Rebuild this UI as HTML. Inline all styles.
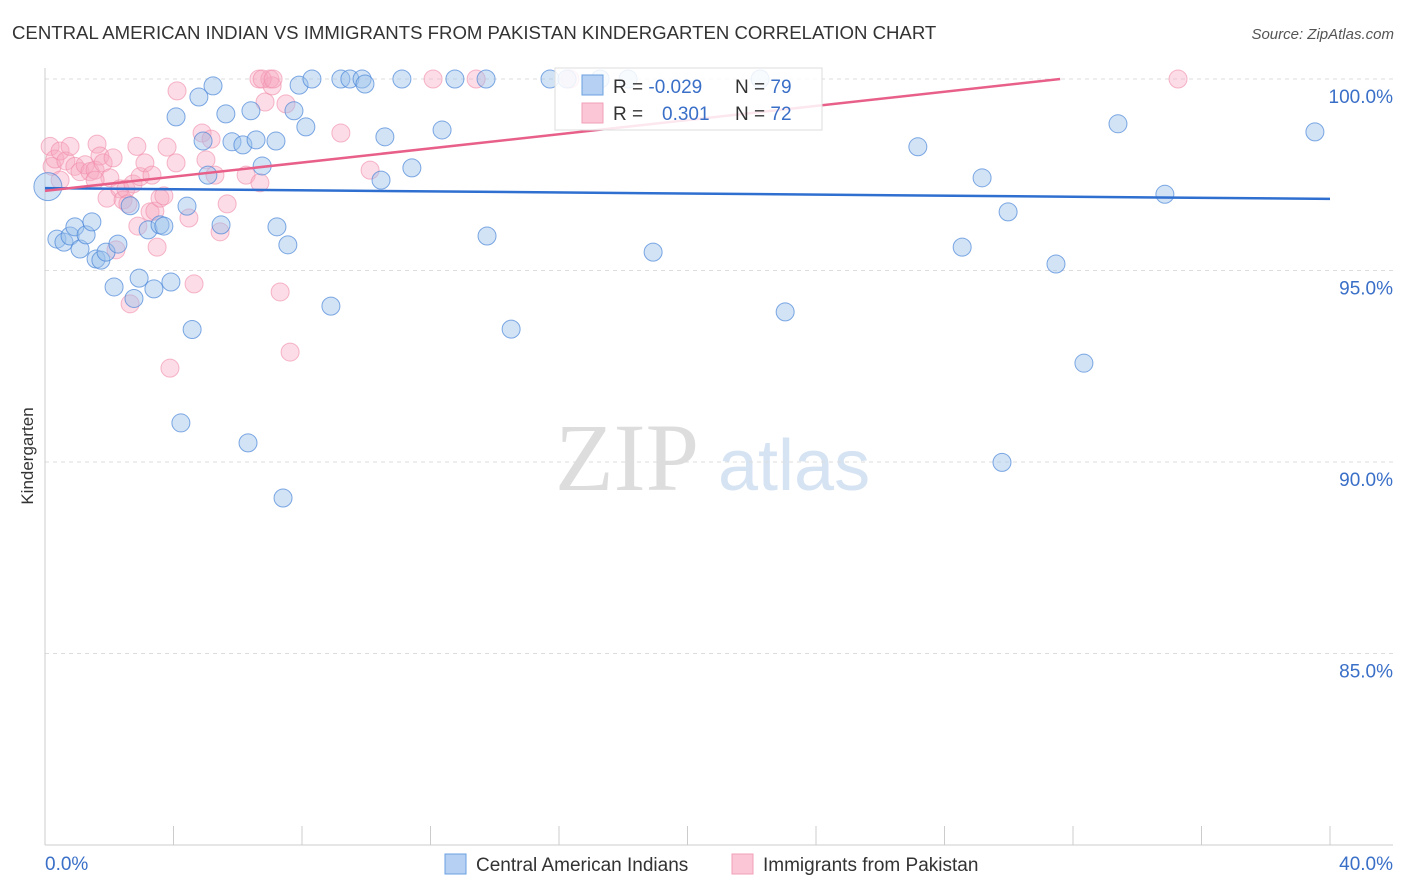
<!DOCTYPE html>
<html><head><meta charset="utf-8"><style>
body{margin:0;background:#fff;font-family:"Liberation Sans",sans-serif;}
svg{display:block}
</style></head><body>
<svg id="chart" width="1406" height="892">
<text x="12" y="39" font-size="18.6" fill="#333">CENTRAL AMERICAN INDIAN VS IMMIGRANTS FROM PAKISTAN KINDERGARTEN CORRELATION CHART</text>
<text x="1394" y="39" font-size="15" fill="#555" font-style="italic" text-anchor="end">Source: ZipAtlas.com</text>
<text x="33" y="456" font-size="17" fill="#333" transform="rotate(-90 33 456)" text-anchor="middle">Kindergarten</text>
<text x="555" y="490" font-size="96" fill="#ddd" font-family="Liberation Serif,serif">ZIP</text>
<text x="718" y="490" font-size="72" fill="#d6e3f3">atlas</text>
<g id="grid"></g><g id="pts"></g><g id="lines"></g>
<g>
<rect x="555" y="68" width="267" height="62" fill="#fff" fill-opacity="0.85" stroke="#ddd"/>
<rect x="582" y="75" width="21" height="20" fill="#b5d0f2" stroke="#6a9fe0"/>
<rect x="582" y="103" width="21" height="20" fill="#fbc6d6" stroke="#f0a0b8"/>
<text x="613" y="93" font-size="19" fill="#333">R = <tspan fill="#3a6fc8">-0.029</tspan></text>
<text x="735" y="93" font-size="19" fill="#333">N = <tspan fill="#3a6fc8">79</tspan></text>
<text x="613" y="120" font-size="19" fill="#333">R = <tspan x="662" fill="#3a6fc8">0.301</tspan></text>
<text x="735" y="120" font-size="19" fill="#333">N = <tspan fill="#3a6fc8">72</tspan></text>
</g>
<g>
<rect x="445" y="854" width="21" height="20" fill="#b5d0f2" stroke="#6a9fe0"/>
<text x="476" y="871" font-size="19" fill="#333">Central American Indians</text>
<rect x="732" y="854" width="21" height="20" fill="#fbc6d6" stroke="#f0a0b8"/>
<text x="763" y="871" font-size="19" fill="#333">Immigrants from Pakistan</text>
</g>
</svg>
<script>
const yTicks=[100,95,90,85];
const xTickLabels=["0.0%","40.0%"];
const blueX=[0.09,0.37,0.59,0.78,0.93,1.09,1.28,1.46,1.59,1.74,1.90,2.15,2.27,2.65,2.77,2.93,3.21,3.39,3.58,3.70,3.92,4.08,4.23,4.42,4.58,4.79,4.92,5.07,5.23,5.48,5.63,5.82,6.16,6.32,6.41,6.57,6.76,7.19,7.22,7.41,7.56,7.75,7.91,8.12,8.31,8.90,9.21,9.49,9.87,9.96,10.46,10.58,11.11,11.42,12.36,12.76,13.76,13.73,14.51,15.72,16.25,17.28,18.15,18.93,22.26,23.04,27.17,28.55,29.17,29.79,29.98,31.47,32.34,33.40,34.86,39.53];
const blueY=[97.19,95.82,95.74,95.90,96.14,95.56,95.93,96.27,95.30,95.27,95.48,94.57,95.69,96.69,94.27,94.80,96.06,94.52,96.19,96.16,94.70,99.01,91.02,96.68,93.46,99.53,98.38,97.49,99.82,96.19,99.09,98.36,98.28,90.50,99.17,98.41,97.73,98.38,96.14,89.06,95.67,99.17,99.84,98.75,100,94.07,100,100,100,99.87,97.36,98.49,100,97.68,98.67,100,95.90,100,93.47,100,100,100,100,95.48,100,93.92,98.23,95.61,97.42,89.99,96.53,95.17,92.58,98.83,96.99,98.62];
const pinkX=[0.16,0.22,0.31,0.47,0.65,0.78,0.93,1.09,1.25,1.40,1.56,1.62,1.71,1.81,1.93,2.02,2.12,2.21,2.33,2.43,2.52,2.65,2.74,2.86,2.89,2.96,3.11,3.27,3.42,3.49,3.58,3.70,3.80,3.89,4.08,4.11,4.48,4.64,4.89,5.01,5.17,5.29,5.45,5.67,6.26,6.66,6.69,6.85,7.00,7.07,7.32,7.50,7.63,9.21,10.12,12.08,13.42,16.34,35.27,0.47,1.56,2.58,3.33,6.76,7.10];
const pinkY=[98.24,97.72,97.91,98.12,97.86,98.24,97.72,97.58,97.76,97.58,97.62,98.30,97.99,97.81,96.89,97.42,97.94,95.54,97.13,96.84,97.13,94.13,97.26,98.24,96.16,97.45,97.81,96.53,96.55,95.61,96.89,96.95,98.22,92.45,97.81,99.69,96.37,94.65,98.59,97.89,98.43,97.49,96.01,96.74,97.49,100,97.29,99.40,100,99.82,94.44,99.35,92.87,98.59,97.62,100,100,100,100,97.36,97.36,96.74,97.49,100,100];
const bluePts=blueX.map((x,i)=>[x,blueY[i]]);
const pinkPts=pinkX.map((x,i)=>[x,pinkY[i]]);
const blueLine=[[0,97.15],[40,96.87]];
const pinkLine=[[0,97.08],[31.6,100]];
const NS="http://www.w3.org/2000/svg";
const X=p=>45+p*32.125, Y=v=>79+(100-v)*38.3;
function mk(t,a,parent){const e=document.createElementNS(NS,t);for(const k in a)e.setAttribute(k,a[k]);parent.appendChild(e);return e;}
const grid=document.getElementById('grid');
yTicks.forEach(v=>{
 const l=mk('line',{x1:45,x2:1393,y1:Y(v),y2:Y(v),stroke:'#ddd','stroke-dasharray':'4,4'},grid);
 
 
 const t=mk('text',{x:1393,y:Y(v)+24,'font-size':19,fill:'#3a6fc8','text-anchor':'end'},grid);
 t.textContent=v.toFixed(1)+'%';
 
 
});
const ax=mk('line',{x1:45,x2:45,y1:68,y2:845,stroke:'#ccc'},grid);


const bx=mk('line',{x1:45,x2:1393,y1:845,y2:845,stroke:'#ccc'},grid);


for(let i=0;i<=10;i++){
 const t=mk('line',{x1:X(i*4),x2:X(i*4),y1:826,y2:845,stroke:'#ccc'},grid);
 
 
}
const xl0=mk('text',{x:45,y:870,'font-size':19,fill:'#3a6fc8'},grid);xl0.textContent=xTickLabels[0];


const xl1=mk('text',{x:1393,y:870,'font-size':19,fill:'#3a6fc8','text-anchor':'end'},grid);xl1.textContent=xTickLabels[1];


const pts=document.getElementById('pts');
pinkPts.forEach(p=>{const c=mk('circle',{cx:X(p[0]),cy:Y(p[1]),r:9,fill:'#f7a8c0','fill-opacity':0.4,stroke:'#f08aa8','stroke-opacity':0.6},pts);
 
 });
bluePts.forEach((p,i)=>{const c=mk('circle',{cx:X(p[0]),cy:Y(p[1]),r:i==0?14:9,fill:'#9cc0ec','fill-opacity':0.45,stroke:'#4a86d8','stroke-opacity':0.7},pts);
 
 });
const lines=document.getElementById('lines');
const bl=mk('line',{x1:X(blueLine[0][0]),y1:Y(blueLine[0][1]),x2:X(blueLine[1][0]),y2:Y(blueLine[1][1]),stroke:'#2f6fd0','stroke-width':2.5},lines);


const pl=mk('line',{x1:X(pinkLine[0][0]),y1:Y(pinkLine[0][1]),x2:X(pinkLine[1][0]),y2:Y(pinkLine[1][1]),stroke:'#e8608a','stroke-width':2.5},lines);


</script>
</body></html>
